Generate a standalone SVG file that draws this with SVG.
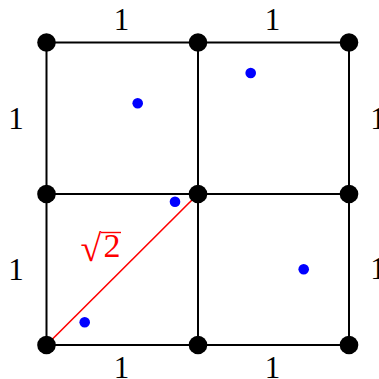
<svg xmlns="http://www.w3.org/2000/svg" width="379" height="379" viewBox="0 0 379 379">
<style>
.edge{stroke:#000;stroke-width:2;fill:none}
.node{fill:#000}
.pt{fill:#0000ff}
.lbl{font-family:"Liberation Serif","DejaVu Serif",serif;font-size:31px;fill:#000;text-anchor:middle}
.red{fill:#ff0000}
</style>
<rect width="379" height="379" fill="#fff"/>
<g id="connectors">
<path class="edge" d="M46.5,42.5H349M46.5,194H349M46.5,345H349M46.5,42.5V345M198,42.5V345M349,42.5V345"/>
<line x1="46.5" y1="345" x2="198" y2="194" stroke="#ff0000" stroke-width="1.6"/>
</g>
<g id="n00"><circle class="node" cx="46.5" cy="42.5" r="9.3"/></g>
<g id="n10"><circle class="node" cx="198" cy="42.5" r="9.3"/></g>
<g id="n20"><circle class="node" cx="349" cy="42.5" r="9.3"/></g>
<g id="n01"><circle class="node" cx="46.5" cy="194" r="9.3"/></g>
<g id="n11"><circle class="node" cx="198" cy="194" r="9.3"/></g>
<g id="n21"><circle class="node" cx="349" cy="194" r="9.3"/></g>
<g id="n02"><circle class="node" cx="46.5" cy="345" r="9.3"/></g>
<g id="n12"><circle class="node" cx="198" cy="345" r="9.3"/></g>
<g id="n22"><circle class="node" cx="349" cy="345" r="9.3"/></g>
<g id="points">
<circle class="pt" cx="137.7" cy="103.3" r="5.3"/>
<circle class="pt" cx="250.7" cy="73" r="5.3"/>
<circle class="pt" cx="175" cy="201.7" r="5.3"/>
<circle class="pt" cx="84.7" cy="322.3" r="5.3"/>
<circle class="pt" cx="303.7" cy="269.3" r="5.3"/>
</g>
<g id="labels">
<text class="lbl" x="121.5" y="30">1</text>
<text class="lbl" x="272.5" y="30">1</text>
<text class="lbl" x="16" y="128.5">1</text>
<text class="lbl" x="16" y="279.5">1</text>
<text class="lbl" x="121.5" y="378">1</text>
<text class="lbl" x="272.5" y="378">1</text>
<text class="lbl" x="378" y="128.5">1</text>
<text class="lbl" x="378" y="278.5">1</text>
<text class="lbl red" x="91" y="261" style="font-size:38px">√</text>
<text class="lbl red" x="112" y="257" style="font-size:34px">2</text>
<line x1="101" y1="232.5" x2="121" y2="232.5" stroke="#ff0000" stroke-width="1.4"/>
</g>
</svg>
